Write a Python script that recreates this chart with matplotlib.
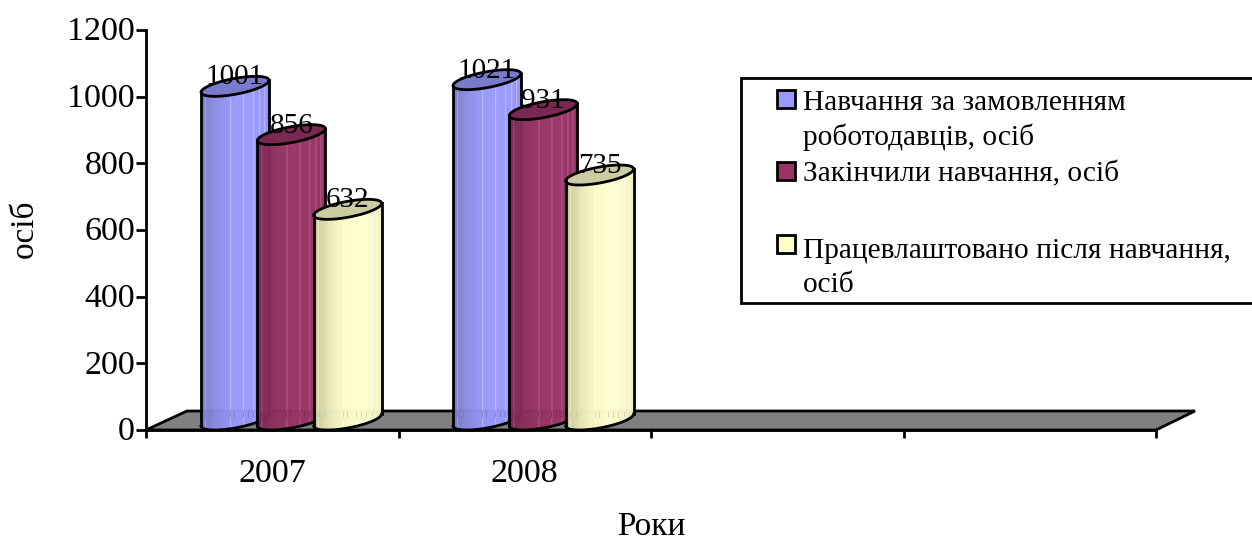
import numpy as np
import matplotlib
matplotlib.use('Agg')
import matplotlib.pyplot as plt
from matplotlib.colors import to_rgb
from matplotlib.patches import Rectangle, Polygon
from matplotlib.transforms import ScaledTranslation

plt.rcParams['font.family'] = ['Liberation Serif', 'DejaVu Serif']

# Data
years = ['2007', '2008']
series_names = ['Навчання за замовленням\nроботодавців, осіб',
                'Закінчили навчання, осіб',
                'Працевлаштовано після навчання,\nосіб']
ordered = [1001, 1021]
finished = [856, 931]
employed = [632, 735]
series = [ordered, finished, employed]
colors = ['#9999FF', '#993366', '#FFFFCC']
yticks = [0, 200, 400, 600, 800, 1000, 1200]

W, H = 1252, 538
fig = plt.figure(figsize=(W / 100, H / 100), dpi=100)
ax = fig.add_axes([146 / W, (H - 430) / H, 1010 / W, 400 / H])
ax.set_xlim(0, 4)
ax.set_ylim(0, 1200)
ax.patch.set_visible(False)

PXX = 4 / 1010    # data units per pixel, x
PXY = 1200 / 400  # data units per pixel, y
LW = 2.0

# Spines and ticks
for side in ['top', 'right']:
    ax.spines[side].set_visible(False)
for side in ['left', 'bottom']:
    ax.spines[side].set_linewidth(LW)
ax.set_yticks(yticks)
ax.set_xticks(range(5))
ax.set_xticklabels([])
ax.tick_params(axis='y', length=7, width=LW, labelsize=24.5, pad=1)
ax.tick_params(axis='x', length=6, width=LW)
# tick labels sit a little above their ticks in the original
for label in ax.get_yticklabels():
    label.set_transform(label.get_transform() + ScaledTranslation(0, 1.5 / 100, fig.dpi_scale_trans))

# Floor
ax.add_patch(Polygon([(0, 0), (41 * PXX, 19 * PXY), (1049 * PXX, 19 * PXY), (4, 0)],
                     closed=True, facecolor='#808080', edgecolor='black',
                     linewidth=LW, clip_on=False, zorder=1))


def shade(color, u):
    # u runs -1..1 across the cylinder, brightest right of the middle
    f = 0.78 + 0.22 * np.clip(1 - ((u - 0.3) / 1.3) ** 2, 0, 1)
    return tuple(c * f for c in to_rgb(color))


def cylinder(x0, value, color, z):
    a = 34 * PXX
    s = 6 * PXY
    b = 8 * PXY
    cx = x0 + a
    top = value + 10 * PXY
    base = 10 * PXY
    us = np.linspace(-1, 1, 69)
    for i in range(len(us) - 1):
        u = np.array([us[i], us[i + 1]])
        xs = cx + a * u
        front = s * u - b * np.sqrt(1 - u ** 2)
        c = shade(color, u.mean())
        # thin light stripes, mostly on the right side
        if i in (4, 29, 42, 52, 58, 63):
            c = tuple(min(1, v + 0.14) for v in c)
        ax.fill_between(xs, base + front, top + front,
                        color=c, linewidth=0.4, zorder=z, clip_on=False)
        # small dark marks where the floor edge shows through
        if i in (4, 10, 29, 33, 42, 47, 52, 58, 63):
            ax.plot(xs[:1], [base + 6 * PXY], marker='|', ms=4, mew=0.5,
                    color=tuple(v * 0.75 for v in to_rgb(color)), zorder=z)
    t = np.linspace(0, 2 * np.pi, 120)
    ex = cx + a * np.cos(t)
    ey = top + s * np.cos(t) + b * np.sin(t)
    ax.fill(ex, ey, color=tuple(v * 0.8 for v in to_rgb(color)), zorder=z + 0.1, clip_on=False)
    ax.plot(ex, ey, color='black', lw=LW, zorder=z + 0.2, clip_on=False)
    u = np.linspace(-1, 1, 80)
    by = base + s * u - b * np.sqrt(1 - u ** 2)
    ax.plot(cx + a * u, by, color='black', lw=LW, zorder=z + 0.2, clip_on=False)
    ax.plot([cx - a, cx - a], [base - s, top - s], color='black', lw=LW, zorder=z + 0.2)
    ax.plot([cx + a, cx + a], [base + s, top + s], color='black', lw=LW, zorder=z + 0.2)
    ax.text(cx, value + 19 * PXY, str(value), ha='center', va='center', fontsize=21,
            zorder=10, clip_on=False)


starts = [55 * PXX, 307 * PXX]
step = 56.3 * PXX
for g in range(2):
    for k in range(3):
        cylinder(starts[g] + k * step, series[k][g], colors[k], 2 + k)


def px(x, y):
    return x / W, 1 - y / H


# Category labels and axis titles
for name, x in zip(years, [272, 524]):
    fig.text(*px(x, 474), name, ha='center', va='center', fontsize=24.5)
fig.text(*px(651, 527), 'Роки', ha='center', va='center', fontsize=24)
fig.text(*px(24, 229), 'осіб', ha='center', va='center', rotation=90, fontsize=24)

# Legend box, runs off the right edge like in the original
fig.add_artist(Rectangle(px(741, 303), (W + 10 - 741) / W, 225 / H, transform=fig.transFigure,
                         facecolor='white', edgecolor='black', linewidth=LW, zorder=20))
legend_y = [103, 174, 251]
swatch_y = [108, 180, 253]
for name, color, y, sy in zip(series_names, colors, legend_y, swatch_y):
    fig.add_artist(Rectangle(px(777, sy), 18 / W, 18 / H, transform=fig.transFigure,
                             facecolor=color, edgecolor='black', linewidth=LW, zorder=21))
    lines = name.split('\n')
    for j, line in enumerate(lines):
        fig.text(*px(803, y + j * 34), line, ha='left', va='center', fontsize=21.2, zorder=21)

fig.savefig('out.png', dpi=100)
